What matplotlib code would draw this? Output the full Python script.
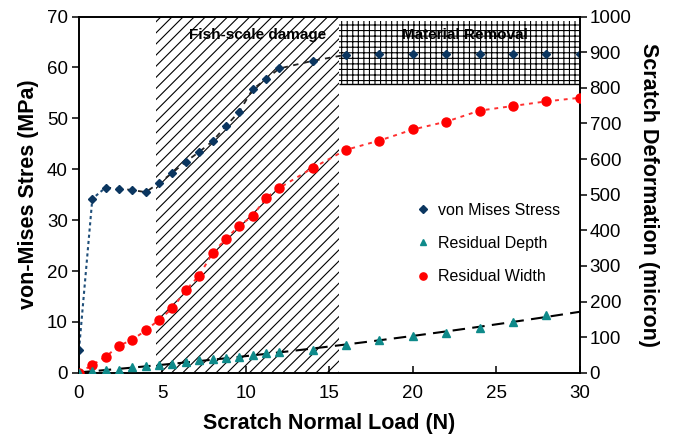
import numpy as np
import matplotlib
matplotlib.use('Agg')
import matplotlib.pyplot as plt
from matplotlib.patches import Rectangle

plt.rcParams['font.family'] = ['Liberation Sans', 'DejaVu Sans']
plt.rcParams['hatch.linewidth'] = 0.8

# ---- data ----
load_fine = [0, 0.8, 1.6, 2.4, 3.2, 4.0, 4.8, 5.6, 6.4, 7.2, 8.0, 8.8, 9.6, 10.4, 11.2, 12.0]
load_coarse = [14, 16, 18, 20, 22, 24, 26, 28, 30]
load = load_fine + load_coarse

mises = [4.5, 34.2, 36.4, 36.2, 35.9, 35.5, 37.3, 39.3, 41.5, 43.4, 45.5, 48.5, 51.3, 55.7, 57.7, 59.8,
         61.3, 62.5, 62.6, 62.6, 62.6, 62.6, 62.6, 62.6, 62.6]
width = [0, 22, 45, 76, 93, 119, 149, 181, 232, 273, 336, 376, 413, 440, 491, 519,
         575, 626, 652, 683, 705, 736, 749, 762, 772]
depth_load = load[:-1]
depth = [0, 4, 8, 7, 16, 19, 22, 25, 29, 36, 38, 42, 45, 49, 55, 58,
         65, 78, 92, 104, 113, 127, 142, 161]

fish_zone = (4.6, 15.6)
removal_zone = (15.6, 30, 56.7, 69.2)

fig, ax = plt.subplots(figsize=(6.75, 4.36), dpi=100)
fig.subplots_adjust(left=0.117, right=0.859, bottom=0.145, top=0.962)
ax2 = ax.twinx()

# shaded zones
ax.axvspan(*fish_zone, facecolor='white', edgecolor='black', hatch='///', linewidth=0, zorder=0)
x0, x1, y0, y1 = removal_zone
ax.add_patch(Rectangle((x0, y0), x1 - x0, y1 - y0, facecolor='white', edgecolor='black',
                       hatch='+++', linewidth=0, zorder=0.5))
ax.hlines(y0, x0, x1, color='black', linewidth=1, zorder=0.6)
ax.text(10.7, 66.3, 'Fish-scale damage', ha='center', va='center', fontsize=11, fontweight='bold')
ax.text(23.1, 66.4, 'Material Removal', ha='center', va='center', fontsize=11, fontweight='bold')

# von Mises stress (left axis)
ax.plot(load[:3], mises[:3], linestyle=(0, (1.5, 1.5)), color='#1F4E79', linewidth=1.5, zorder=2)
ax.plot(load[2:18], mises[2:18], linestyle=(0, (3, 3)), color='#222222', linewidth=1.3, zorder=2)
ax.plot(load, mises, linestyle='none', marker='D', markersize=4.5, color='#0B3660',
        label='von Mises Stress', zorder=3)

# residual width & depth (right axis)
ax2.plot(load, width, linestyle=(0, (2, 2.5)), color='#FF3030', linewidth=1.4, zorder=2)
ax2.plot(load, width, linestyle='none', marker='o', markersize=6.5, color='#FF0000',
         label='Residual Width', zorder=3)
coef = np.polyfit(depth_load, depth, 2)
xx = np.linspace(0, 30, 100)
ax2.plot(xx, np.polyval(coef, xx), linestyle=(0, (6, 3.5)), color='black', linewidth=1.5, zorder=2)
ax2.plot(depth_load, depth, linestyle='none', marker='^', markersize=5.5, color='#0E8A8A',
         label='Residual Depth', zorder=3)

ax.set_xlim(0, 30)
ax.set_ylim(0, 70)
ax2.set_ylim(0, 1000)
ax.set_xticks(range(0, 31, 5))
ax.set_yticks(range(0, 71, 10))
ax2.set_yticks(range(0, 1001, 100))

for a in (ax, ax2):
    for s in a.spines.values():
        s.set_linewidth(1.2)
ax.tick_params(axis='x', direction='in', length=5, width=1.1, labelsize=13.5, pad=9)
ax.tick_params(axis='y', direction='out', length=5, width=1.1, labelsize=13.5, pad=3)
ax2.tick_params(axis='y', direction='out', length=5, width=1.1, labelsize=13.5, pad=2)

ax.set_xlabel('Scratch Normal Load (N)', fontsize=15.5, fontweight='bold', labelpad=8)
ax.set_ylabel('von-Mises Stres (MPa)', fontsize=15.5, fontweight='bold', labelpad=6)
ax2.set_ylabel('Scratch Deformation (micron)', fontsize=15.5, fontweight='bold', rotation=270, labelpad=20)

h1, l1 = ax.get_legend_handles_labels()
h2, l2 = ax2.get_legend_handles_labels()
handles = [h1[0], h2[1], h2[0]]
labels = [l1[0], l2[1], l2[0]]
ax2.legend(handles, labels, loc='upper left', bbox_to_anchor=(0.643, 0.518), frameon=False,
           fontsize=11.5, handlelength=1, handletextpad=0.4, labelspacing=1.15, markerscale=0.8)

plt.savefig('out.png', dpi=100)
